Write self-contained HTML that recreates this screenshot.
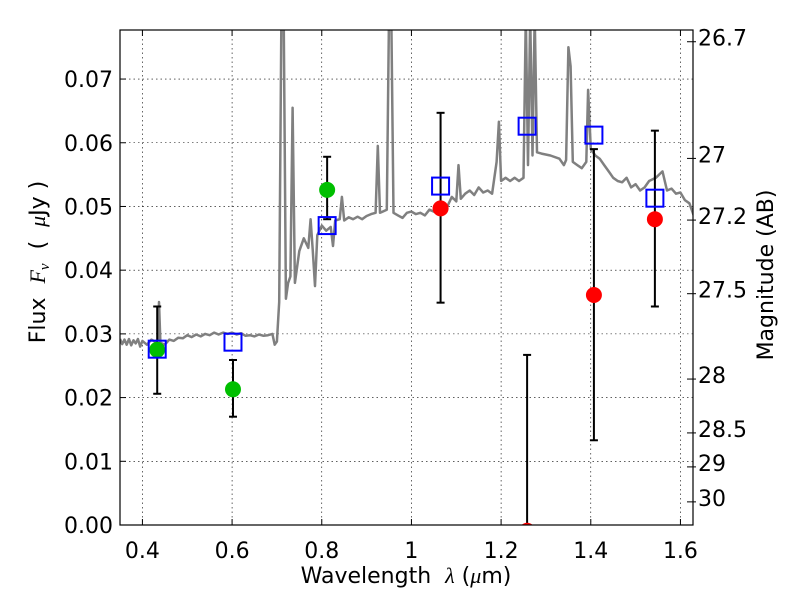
<!DOCTYPE html>
<html><head><meta charset="utf-8"><style>
body{margin:0;background:#fff;}
svg{display:block;font-family:"DejaVu Sans","Liberation Sans",sans-serif;}
</style></head><body>
<svg id="chart" width="800" height="600" viewBox="0 0 800 600"></svg>
<script>
const xTicks=[0.4,0.6,0.8,1.0,1.2,1.4,1.6];
const xTickLabels=["0.4","0.6","0.8","1","1.2","1.4","1.6"];
const yTicks=[0,0.01,0.02,0.03,0.04,0.05,0.06,0.07];
const yTickLabels=["0.00","0.01","0.02","0.03","0.04","0.05","0.06","0.07"];
const magTicks=[26.7,27,27.2,27.5,28,28.5,29,30];
const magTickLabels=["26.7","27","27.2","27.5","28","28.5","29","30"];
const specLam=[0.35,0.355,0.36,0.365,0.37,0.375,0.38,0.385,0.39,0.395,0.40,0.41,0.42,0.43,0.435,0.437,0.44,0.45,0.46,0.47,0.48,0.49,0.50,0.51,0.52,0.53,0.54,0.55,0.56,0.57,0.58,0.59,0.60,0.61,0.62,0.63,0.64,0.65,0.66,0.67,0.68,0.69,0.695,0.70,0.705,0.71,0.715,0.72,0.725,0.73,0.735,0.74,0.75,0.76,0.77,0.775,0.78,0.785,0.79,0.80,0.81,0.82,0.825,0.83,0.84,0.845,0.85,0.86,0.87,0.88,0.89,0.90,0.91,0.92,0.925,0.93,0.945,0.95,0.955,0.96,0.97,0.98,0.99,1.0,1.01,1.02,1.03,1.04,1.05,1.06,1.08,1.09,1.10,1.105,1.11,1.12,1.13,1.14,1.15,1.16,1.17,1.18,1.19,1.195,1.20,1.21,1.22,1.23,1.24,1.25,1.255,1.26,1.265,1.27,1.275,1.28,1.29,1.31,1.33,1.34,1.345,1.35,1.355,1.36,1.37,1.38,1.39,1.394,1.40,1.41,1.42,1.43,1.44,1.45,1.46,1.47,1.48,1.49,1.50,1.51,1.52,1.53,1.545,1.56,1.57,1.58,1.59,1.60,1.61,1.62,1.63];
const specFlux=[0.0292,0.0284,0.0291,0.0283,0.0292,0.0282,0.0290,0.0285,0.0292,0.0280,0.0289,0.0283,0.0291,0.0287,0.0291,0.0350,0.0286,0.0283,0.0291,0.0289,0.0294,0.0293,0.0298,0.0295,0.0299,0.0296,0.0300,0.0298,0.0302,0.0299,0.0302,0.0300,0.0302,0.0299,0.0301,0.0297,0.0298,0.0296,0.0299,0.0297,0.0298,0.0300,0.0283,0.0288,0.0350,0.0800,0.0800,0.0355,0.0380,0.0390,0.0655,0.0380,0.0430,0.0450,0.0435,0.0480,0.0430,0.0375,0.0455,0.0470,0.0462,0.0468,0.0438,0.0478,0.0480,0.0515,0.0478,0.0483,0.0480,0.0484,0.0480,0.0485,0.0488,0.0490,0.0595,0.0490,0.0495,0.0800,0.0800,0.0490,0.0486,0.0482,0.0490,0.0492,0.0488,0.0490,0.0486,0.0495,0.0492,0.0493,0.0500,0.0515,0.0508,0.0565,0.0512,0.0520,0.0525,0.0518,0.0530,0.0522,0.0525,0.0520,0.0570,0.0633,0.0540,0.0545,0.0540,0.0545,0.0540,0.0545,0.0800,0.0565,0.0800,0.0580,0.0800,0.0585,0.0583,0.0580,0.0575,0.0565,0.0573,0.0750,0.0720,0.0570,0.0565,0.0560,0.0570,0.0683,0.0590,0.0580,0.0575,0.0565,0.0555,0.0545,0.0540,0.0538,0.0545,0.0530,0.0535,0.0525,0.0530,0.0540,0.0545,0.0555,0.0525,0.0528,0.0520,0.0522,0.0510,0.0505,0.0485,0.0470];
const modelLam=[0.433,0.602,0.812,1.065,1.258,1.407,1.543];
const modelFlux=[0.0276,0.0287,0.0470,0.0532,0.0626,0.0612,0.0513];
const greenLam=[0.433,0.602,0.812];
const greenFlux=[0.0275,0.0213,0.0526];
const greenLo=[0.0206,0.0170,0.0480];
const greenHi=[0.0343,0.0259,0.0578];
const redLam=[1.065,1.258,1.407,1.543];
const redFlux=[0.0497,-0.0009,0.0361,0.0480];
const redLo=[0.0349,0.0,0.0133,0.0343];
const redHi=[0.0647,0.0267,0.0590,0.0619];

const L=120,R=693,T=30,B=525,X0=0.35,X1=1.628,Y0=0,Y1=0.0777;
const sx=v=>L+(v-X0)/(X1-X0)*(R-L);
const sy=v=>B-(v-Y0)/(Y1-Y0)*(B-T);
const magToFlux=m=>Math.pow(10,(23.9-m)/2.5);
const svg=document.getElementById('chart');
const NS='http://www.w3.org/2000/svg';
function mk(tag,attrs,parent){const e=document.createElementNS(NS,tag);for(const k in attrs)e.setAttribute(k,attrs[k]);(parent||svg).appendChild(e);return e;}

const defs=mk('defs',{});
const cp=mk('clipPath',{id:'plotclip'},defs);
mk('rect',{x:L,y:T,width:R-L,height:B-T},cp);

const grid=mk('g',{stroke:'#000','stroke-width':0.6,'stroke-dasharray':'1.5,3'});


xTicks.forEach(v=>{const l=mk('line',{x1:sx(v),x2:sx(v),y1:T,y2:B},grid);});
yTicks.forEach(v=>{const l=mk('line',{x1:L,x2:R,y1:sy(v),y2:sy(v)},grid);});

const plot=mk('g',{'clip-path':'url(#plotclip)'});
const pts=specLam.map((l,i)=>sx(l).toFixed(1)+','+sy(specFlux[i]).toFixed(1)).join(' ');
const spec=mk('polyline',{points:pts,fill:'none',stroke:'#808080','stroke-width':2.5,'stroke-linejoin':'round'},plot);



function errbar(lam,lo,hi,name){
  const g=mk('g',{stroke:'#000','stroke-width':2},plot);
  
  
  const x=sx(lam);
  mk('line',{x1:x,x2:x,y1:sy(lo),y2:sy(hi)},g);
  mk('line',{x1:x-4,x2:x+4,y1:sy(lo),y2:sy(lo)},g);
  mk('line',{x1:x-4,x2:x+4,y1:sy(hi),y2:sy(hi)},g);
}
greenLam.forEach((l,i)=>{
  errbar(l,greenLo[i],greenHi[i],'green-errorbar');
  const c=mk('circle',{cx:sx(l),cy:sy(greenFlux[i]),r:8,fill:'#00bf00'},plot);
  
  
});
redLam.forEach((l,i)=>{
  errbar(l,redLo[i],redHi[i],'red-errorbar');
  const c=mk('circle',{cx:sx(l),cy:sy(redFlux[i]),r:8,fill:'#ff0000'},plot);
  
  
});
modelLam.forEach((l,i)=>{
  const s=mk('rect',{x:sx(l)-8.5,y:sy(modelFlux[i])-8.5,width:17,height:17,fill:'none',stroke:'#0000ff','stroke-width':2},plot);
  
  
});

const frame=mk('rect',{x:L,y:T,width:R-L,height:B-T,fill:'none',stroke:'#000','stroke-width':1.2});



const ticks=mk('g',{stroke:'#000','stroke-width':1});
xTicks.forEach((v,i)=>{
  mk('line',{x1:sx(v),x2:sx(v),y1:B,y2:B-6},ticks);mk('line',{x1:sx(v),x2:sx(v),y1:T,y2:T+6},ticks);
  const t=mk('text',{x:sx(v),y:B+33,'text-anchor':'middle','font-size':22,fill:'#000',stroke:'none'});
  t.textContent=xTickLabels[i];
  
  
});
yTicks.forEach((v,i)=>{
  mk('line',{x1:L,x2:L+6,y1:sy(v),y2:sy(v)},ticks);
  const t=mk('text',{x:L-7,y:sy(v)+8,'text-anchor':'end','font-size':22,fill:'#000'});
  t.textContent=yTickLabels[i];
  
  
});
magTicks.forEach((m,i)=>{
  const y=sy(magToFlux(m));
  mk('line',{x1:R-6,x2:R+3,y1:y,y2:y},ticks);
  const t=mk('text',{x:R+5,y:y+4,'text-anchor':'start','font-size':22,fill:'#000'});
  t.textContent=magTickLabels[i];
  
  
});

const xl=mk('text',{x:406,y:583,'text-anchor':'middle','font-size':22,fill:'#000'});
xl.innerHTML='Wavelength&#160;&#160;<tspan font-family="Liberation Serif,serif" font-style="italic">λ</tspan> (<tspan font-family="Liberation Serif,serif" font-style="italic">μ</tspan>m)';


const yl=mk('text',{x:0,y:0,'text-anchor':'middle','font-size':22,fill:'#000',transform:'translate(45,262) rotate(-90)'});
yl.innerHTML='Flux&#160;&#160;<tspan font-family="Liberation Serif,serif" font-style="italic">F<tspan font-size="15" dy="4">ν</tspan></tspan><tspan dy="-4">&#160;&#160;(&#160;&#160;</tspan><tspan font-family="Liberation Serif,serif" font-style="italic">μ</tspan>Jy )';


const rl=mk('text',{x:0,y:0,'text-anchor':'middle','font-size':22,fill:'#000',transform:'translate(773,275) rotate(-90)'});
rl.textContent='Magnitude (AB)';


</script>
</body></html>
